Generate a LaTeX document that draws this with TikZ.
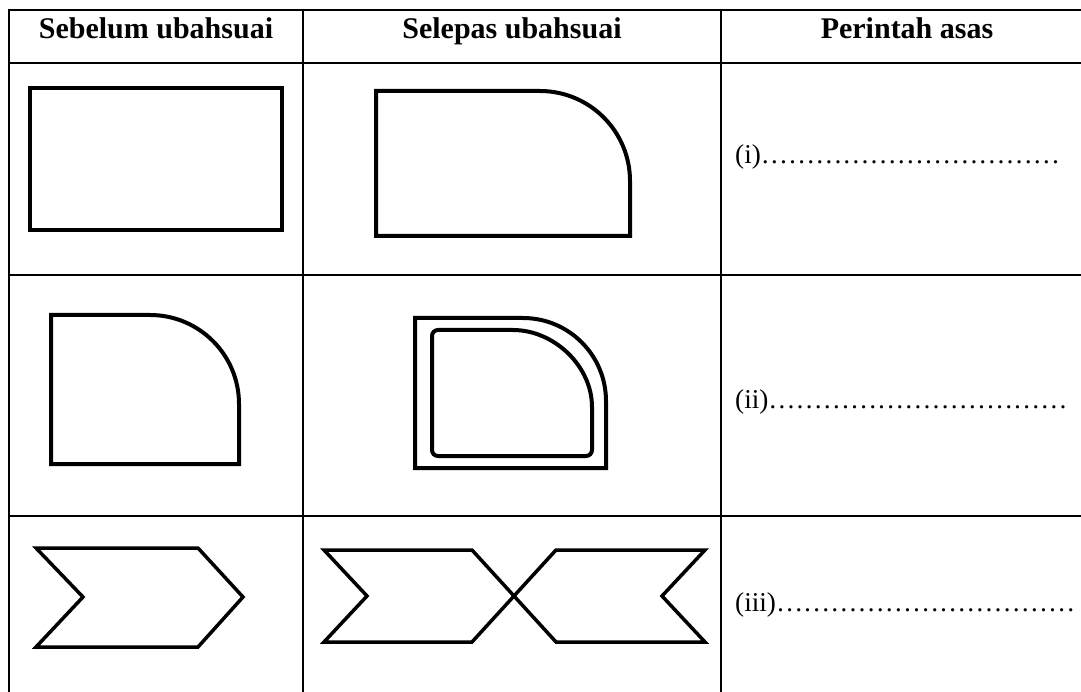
\documentclass[tikz,border=0pt]{standalone}
\usepackage{fontspec}
\setmainfont{Liberation Serif}
\newcommand\myell{…}
\newcommand\myline{\myell\myell\myell\myell\myell\myell\myell\myell\myell\myell\myell}
\begin{document}
\begin{tikzpicture}[x=1pt,y=-1pt,
  grid/.style={line width=2pt,black},
  gridthick/.style={line width=2.6pt,black},
  symb/.style={line width=4pt,black,line join=miter},
  chev/.style={line width=3.5pt,black,line join=miter},
  head/.style={anchor=base,inner sep=0pt,font=\fontsize{30}{36}\selectfont\bfseries},
  ans/.style={anchor=base west,inner sep=0pt,font=\fontsize{27.2}{32}\selectfont}]
\useasboundingbox[fill=white] (0,0) rectangle (1081,692);
% table lines
\draw[gridthick] (9,10) -- (1090,10);
\draw[gridthick] (9,63) -- (1090,63);
\draw[grid] (9,275) -- (1090,275);
\draw[grid] (9,516) -- (1090,516);
\draw[grid] (9,9) -- (9,700);
\draw[grid] (303,10) -- (303,700);
\draw[grid] (721,10) -- (721,700);
% headers
\node[head] (h1) at (156,39) {Sebelum ubahsuai};
\node[head] (h2) at (512,39) {Selepas ubahsuai};
\node[head] (h3) at (907,39) {Perintah asas};
% row 1
\draw[symb] (30,88) rectangle (282,230);
\draw[symb] (376,236) -- (376,91) -- (540,91)
  .. controls (589.7,91) and (630,131.3) .. (630,181) -- (630,236) -- cycle;
% row 2
\draw[symb] (51,464) -- (51,315) -- (150,315)
  .. controls (199.2,315) and (239,354.8) .. (239,404) -- (239,464) -- cycle;
\draw[symb] (415,468) -- (415,318) -- (523,318)
  .. controls (568.8,318) and (606,355.2) .. (606,401) -- (606,468) -- cycle;
\draw[symb,rounded corners=6pt] (507,330)
  .. controls (554,330) and (592,366) .. (592,413) -- (592,456) -- (432,456) -- (432,330) -- cycle;
% row 3
\draw[chev] (36,548) -- (198,548) -- (243,597) -- (198,647) -- (36,647) -- (83,597) -- cycle;
\draw[chev] (324,550) -- (472,550) -- (556,642) -- (705,642) -- (662,596) -- (705,550)
  -- (556,550) -- (472,642) -- (324,642) -- (367,596) -- cycle;
% answers
\node[ans] (a1) at (735,164) {(i)\myline};
\node[ans] (a2) at (735,408) {(ii)\myline};
\node[ans] (a3) at (735,611) {(iii)\myline};
\end{tikzpicture}
\end{document}
